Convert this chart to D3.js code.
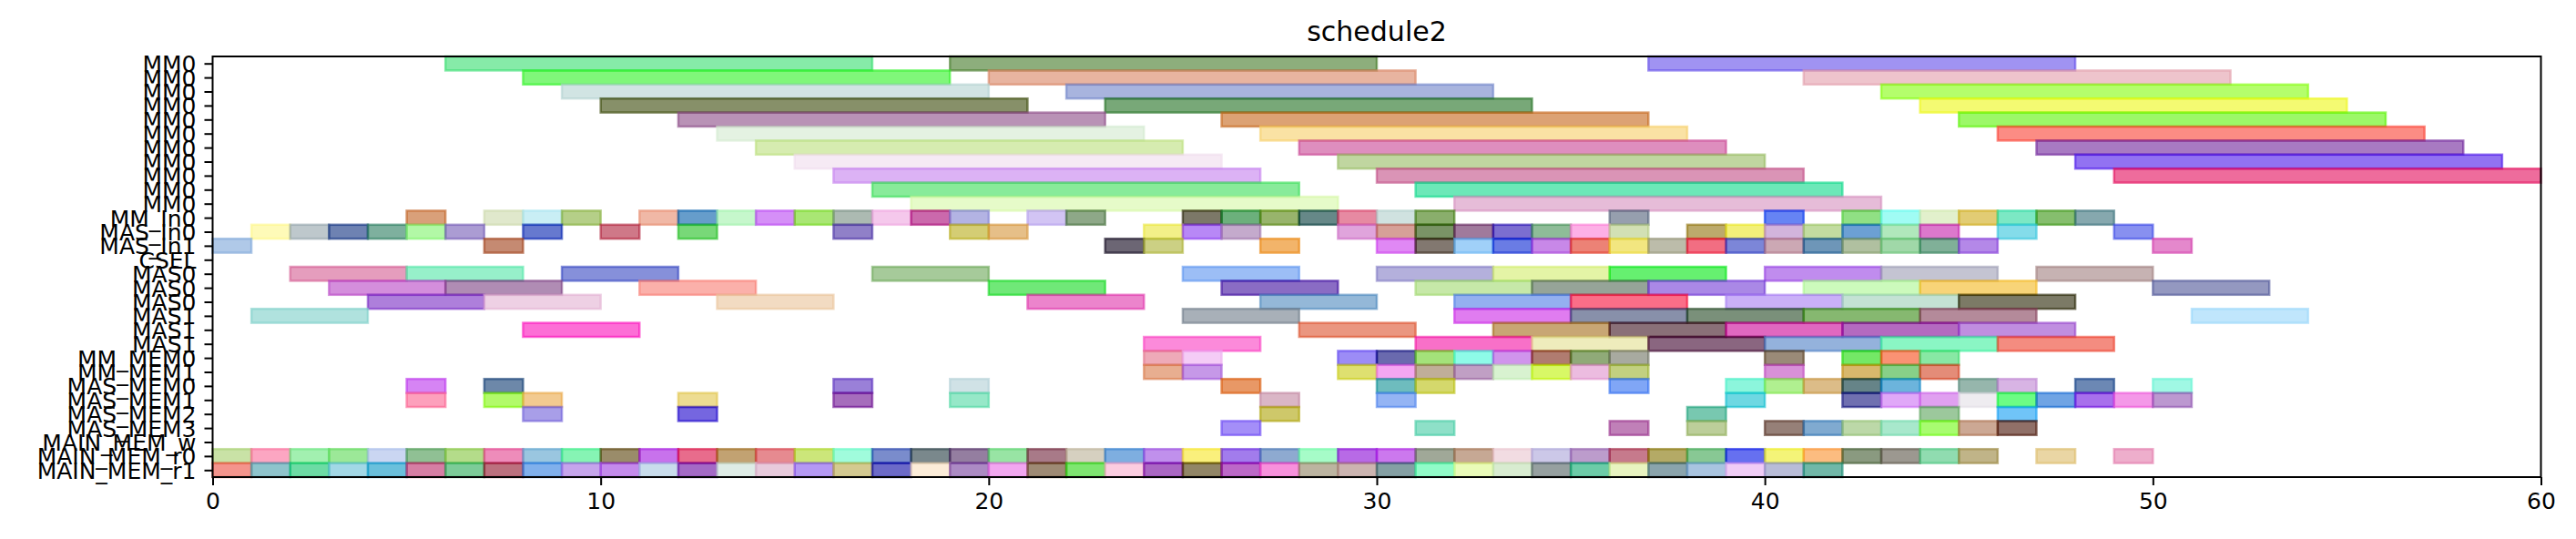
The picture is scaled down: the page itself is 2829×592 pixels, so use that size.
<!DOCTYPE html>
<html>
<head>
<meta charset="utf-8">
<script src="https://cdn.jsdelivr.net/npm/d3@7"></script>
<style>
  html, body { margin: 0; padding: 0; background: #fff; }
  svg { display: block; font-family: "DejaVu Sans", sans-serif; }
</style>
</head>
<body>
<svg id="chart" width="2829" height="592"></svg>
<script>
const chartTitle = "schedule2";
const xTicks = [0, 10, 20, 30, 40, 50, 60];
const rowLabels = [
  "MM0","MM0","MM0","MM0","MM0","MM0","MM0","MM0","MM0","MM0","MM0",
  "MM_In0","MAS_In0","MAS_In1","CSEL",
  "MAS0","MAS0","MAS0","MAS1","MAS1","MAS1",
  "MM_MEM0","MM_MEM1","MAS_MEM0","MAS_MEM1","MAS_MEM2","MAS_MEM3",
  "MAIN_MEM_w","MAIN_MEM_r0","MAIN_MEM_r1"
];

// task spans per row: [start, end]
const rowSpans = [
  [[6,17],[19,30],[37,48]],
  [[8,19],[20,31],[41,52]],
  [[9,20],[22,33],[43,54]],
  [[10,21],[23,34],[44,55]],
  [[12,23],[26,37],[45,56]],
  [[13,24],[27,38],[46,57]],
  [[14,25],[28,39],[47,58]],
  [[15,26],[29,40],[48,59]],
  [[16,27],[30,41],[49,60]],
  [[17,28],[31,42]],
  [[18,29],[32,43]],
  [[5,6],[7,8],[8,9],[9,10],[11,12],[12,13],[13,14],[14,15],[15,16],[16,17],[17,18],[18,19],[19,20],[21,22],[22,23],[25,26],[26,27],[27,28],[28,29],[29,30],[30,31],[31,32],[36,37],[40,41],[42,43],[43,44],[44,45],[45,46],[46,47],[47,48],[48,49]],
  [[1,2],[2,3],[3,4],[4,5],[5,6],[6,7],[8,9],[10,11],[12,13],[16,17],[19,20],[20,21],[24,25],[25,26],[26,27],[29,30],[30,31],[31,32],[32,33],[33,34],[34,35],[35,36],[36,37],[38,39],[39,40],[40,41],[41,42],[42,43],[43,44],[44,45],[46,47],[49,50]],
  [[0,1],[7,8],[23,24],[24,25],[27,28],[30,31],[31,32],[32,33],[33,34],[34,35],[35,36],[36,37],[37,38],[38,39],[39,40],[40,41],[41,42],[42,43],[43,44],[44,45],[45,46],[50,51]],
  [],
  [[2,5],[5,8],[9,12],[17,20],[25,28],[30,33],[33,36],[36,39],[40,43],[43,46],[47,50]],
  [[3,6],[6,9],[11,14],[20,23],[26,29],[31,34],[34,37],[37,40],[41,44],[44,47],[50,53]],
  [[4,7],[7,10],[13,16],[21,24],[27,30],[32,35],[35,38],[39,42],[42,45],[45,48]],
  [[1,4],[25,28],[32,35],[35,38],[38,41],[41,44],[44,47],[51,54]],
  [[8,11],[28,31],[33,36],[36,39],[39,42],[42,45],[45,48]],
  [[24,27],[31,34],[34,37],[37,40],[40,43],[43,46],[46,49]],
  [[24,25],[25,26],[29,30],[30,31],[31,32],[32,33],[33,34],[34,35],[35,36],[36,37],[40,41],[42,43],[43,44],[44,45]],
  [[24,25],[25,26],[29,30],[30,31],[31,32],[32,33],[33,34],[34,35],[35,36],[36,37],[40,41],[42,43],[43,44],[44,45]],
  [[5,6],[7,8],[16,17],[19,20],[26,27],[30,31],[31,32],[36,37],[39,40],[40,41],[41,42],[42,43],[43,44],[45,46],[46,47],[48,49],[50,51]],
  [[5,6],[7,8],[8,9],[12,13],[16,17],[19,20],[27,28],[30,31],[39,40],[42,43],[43,44],[44,45],[45,46],[46,47],[47,48],[48,49],[49,50],[50,51]],
  [[8,9],[12,13],[27,28],[38,39],[44,45],[46,47]],
  [[26,27],[31,32],[36,37],[38,39],[40,41],[41,42],[42,43],[43,44],[44,45],[45,46],[46,47]],
  [],
  [[0,1],[1,2],[2,3],[3,4],[4,5],[5,6],[6,7],[7,8],[8,9],[9,10],[10,11],[11,12],[12,13],[13,14],[14,15],[15,16],[16,17],[17,18],[18,19],[19,20],[20,21],[21,22],[22,23],[23,24],[24,25],[25,26],[26,27],[27,28],[28,29],[29,30],[30,31],[31,32],[32,33],[33,34],[34,35],[35,36],[36,37],[37,38],[38,39],[39,40],[40,41],[41,42],[42,43],[43,44],[44,45],[45,46],[47,48],[49,50]],
  [[0,1],[1,2],[2,3],[3,4],[4,5],[5,6],[6,7],[7,8],[8,9],[9,10],[10,11],[11,12],[12,13],[13,14],[14,15],[15,16],[16,17],[17,18],[18,19],[19,20],[20,21],[21,22],[22,23],[23,24],[24,25],[25,26],[26,27],[27,28],[28,29],[29,30],[30,31],[31,32],[32,33],[33,34],[34,35],[35,36],[36,37],[37,38],[38,39],[39,40],[40,41],[41,42]]
];

// observed (blended) bar colours per row, same order as rowSpans
const rowColors = [
  ["#86eba8","#8dae7c","#a093f2"],
  ["#80f77a","#e8b4a0","#eec4cc"],
  ["#d1e4e3","#a8b4de","#b4fe6c"],
  ["#879069","#78a878","#f4fa72"],
  ["#b992b6","#dca274","#9cf868"],
  ["#e4f2e2","#fae2a4","#fc8c84"],
  ["#d6ecb0","#de8ebe","#a87ac2"],
  ["#f6eaf4","#c0d6a0","#9272f2"],
  ["#dcb2f5","#da94b6","#ee6c9c"],
  ["#88eb9a","#6ce8b8"],
  ["#e6fbc9","#e6bcd8"],
  ["#d9a07a","#e0e8cc","#c9eef5","#b5cf88","#f0b8a6","#659dcb","#c6f7cc","#d58ff7","#a9e674","#acbab2","#f5c8ec","#cb69ac","#b3b3e3","#d2c4f4","#8ea888","#7c7868","#6cb07c","#98b46c","#608888","#e68aa2","#d0e2e0","#8aae6c","#969fae","#6484f4","#90e084","#a0fcf4","#e2f0cc","#e2cc74","#7ce8c4","#86be6e","#86a8ae"],
  ["#fefab8","#bec8cc","#6e82b2","#7eb09e","#b2f8a6","#ab9cd3","#5d79cf","#cf7888","#78d878","#9080c8","#d4cd74","#e6bf88","#f2f088","#b888f6","#c4aacc","#e0a4dc","#d6a098","#7a9466","#a07a9c","#7c6ed0","#8ebc98","#fdb0e6","#d2e0b4","#bcaa6c","#f2f07a","#d2b4dc","#c2dca0","#6ca0d4","#b0e8bc","#dc78cc","#84dcea","#8890f0"],
  ["#b0c9e8","#c58a72","#6c6474","#ccd084","#f2b46a","#e088f4","#827870","#a0d0f8","#6a7ce4","#c888e8","#ec8276","#f2e680","#bcbcaa","#f26e82","#7c86d8","#cca8b4","#6e96b8","#b0c0a0","#a0d8a8","#80b098","#b488e8","#e488cc"],
  [],
  ["#e59dbd","#97f0ca","#8690da","#a6ca9a","#9cbef6","#b4b0dc","#e4f4a6","#64f070","#c08cee","#c4c4d2","#c6b2b2"],
  ["#d48edc","#b08cb4","#fbb0aa","#70e878","#8a6cc4","#c6e8a8","#96a498","#aa88e6","#ccfabc","#f8d478","#9498c0"],
  ["#ae7fdb","#eed0e4","#f2dbc2","#ec84cc","#94b8d8","#94b0f0","#fb6e88","#cab0f8","#c4e2d4","#7c7a66"],
  ["#b0e2de","#a8b0b8","#e07cf0","#8890aa","#7a907a","#86b870","#b48a9a","#c0e6fc"],
  ["#fd6ed6","#ea9680","#c8a674","#8a7078","#e068c0","#b46ac0","#c08ee0"],
  ["#fc8ada","#f870c8","#eeecbc","#8a6080","#94b2dc","#8af6c4","#f48c80"],
  ["#eeaab8","#f4ccf6","#9c8cf6","#6a6aae","#a4e27a","#8efbe8","#d094ec","#b07c70","#90aa78","#a8aaa0","#9a8a78","#74e864","#fa9274","#88e8a4"],
  ["#e8ae90","#c698e8","#dee070","#f4a6f2","#c0ae98","#c09fc4","#d8f2d0","#d8f85a","#ecbce0","#c2d080","#d890d8","#d8b86c","#88d088","#e48c78"],
  ["#d684f4","#6d88a9","#9a80d8","#d0e2e6","#e89860","#6ebcbe","#d4d86c","#80a6f6","#8cf6dc","#b0f090","#dcbc88","#648488","#6cb4dc","#96b6ac","#d8b4e4","#6c88b4","#a0f8e4"],
  ["#fda0bc","#b2fa6a","#f2ca90","#eddc92","#a66dbc","#96e8c8","#dab6c6","#94b4f4","#6ed8e2","#7070b0","#e0a8f8","#e0a0f0","#eeecf0","#6cfc84","#70a4e4","#a870ec","#f498e8","#bc98d0"],
  ["#a89ee8","#7566e0","#cec86a","#78c8b0","#9cc89c","#70c4f8"],
  ["#a48ef8","#8ee0c8","#c080b8","#bcce9a","#968078","#80aad0","#bcd8a8","#a8e8cc","#a8fc70","#cca894","#907068"],
  [],
  ["#c9e2a6","#fca6c2","#a2f0b0","#9ce898","#cad6f2","#90c094","#b4dc8a","#ee8cba","#9ac6e0","#86f4b4","#9a8c6a","#c872ec","#e86c8c","#c2a272","#e68a90","#cce67a","#a0fcdc","#7a8ccc","#7a888c","#947ea0","#98e4a4","#a87a88","#d6d0c0","#7eaee0","#c090ec","#faf07c","#a27cec","#8eaad0","#a6fcc8","#b86ae6","#cc78ee","#a0a898","#c6a894","#f2dce2","#ccc8e8","#bc9ccc","#c67a8c","#b4aa64","#88c894","#6070f0","#f4f478","#fcbc80","#8a9a80","#9c9890","#90dcb0","#c0b488","#ead6a4","#eeaecc"],
  ["#f4948c","#8ec4cc","#6cdca4","#a2d8e6","#6ac0dc","#d67ea4","#7ccc98","#bc707e","#80b0ec","#c6a4ec","#c48aec","#c8dcec","#a46ac6","#deece6","#e8cadc","#b498f4","#d4ca90","#6c6ac8","#fcecd8","#ac8ac4","#f2a6f0","#9e8a74","#7ee670","#fccce0","#aa66c4","#928660","#bc68c8","#f890dc","#bcb4a0","#ccb4b0","#84a0a4","#90fcc8","#eafcb8","#d8ecd0","#96a0a0","#6ccca8","#e8f4c0","#8aa4ac","#a8c4e0","#f0ccf6","#b8bcd8","#70b8a8"]
];

// ---------- drawing ----------
const W = 2829, H = 592;
const plot = { left: 233.5, right: 2790.5, top: 62, bottom: 524 };
const ALPHA = 0.6;

const svg = d3.select("#chart");
const x = d3.scaleLinear().domain([0, 60]).range([plot.left, plot.right]);
const y = d3.scaleLinear().domain([-0.5, rowLabels.length - 0.5]).range([plot.top, plot.bottom]);

// recover the un-blended base colour from the observed blended colour
function baseColor(hex) {
  const c = d3.rgb(hex);
  const f = v => Math.max(0, Math.min(255, (v - (1 - ALPHA) * 255) / ALPHA));
  return d3.rgb(f(c.r), f(c.g), f(c.b)).formatHex();
}

const bars = [];
rowSpans.forEach((spans, r) => {
  spans.forEach((s, k) => {
    bars.push({ row: r, start: s[0], end: s[1], color: rowColors[r][k] || "#cccccc" });
  });
});

const gBars = svg.append("g");
gBars.selectAll("rect").data(bars).join("rect")
  .attr("x", d => x(d.start))
  .attr("y", d => y(d.row - 0.5))
  .attr("width", d => x(d.end) - x(d.start))
  .attr("height", d => y(d.row + 0.5) - y(d.row - 0.5))
  .attr("fill", d => baseColor(d.color))
  .attr("fill-opacity", ALPHA)
  .attr("stroke", d => baseColor(d.color))
  .attr("stroke-opacity", ALPHA)
  .attr("stroke-width", 2.5);

// x axis
const xAxis = d3.axisBottom(x).tickValues(xTicks).tickSize(9).tickPadding(8).tickFormat(d3.format("d"));
const gx = svg.append("g").attr("transform", `translate(0,${plot.bottom})`).call(xAxis);
gx.select(".domain").remove();
gx.selectAll(".tick line").attr("stroke", "#000").attr("stroke-width", 2);
gx.selectAll(".tick text").attr("font-size", 25).attr("fill", "#000")
  .attr("font-family", "DejaVu Sans, sans-serif");

// y axis (rows)
const yAxis = d3.axisLeft(y).tickValues(d3.range(rowLabels.length)).tickSize(9).tickPadding(9)
  .tickFormat(i => rowLabels[i]);
const gy = svg.append("g").attr("transform", `translate(${plot.left},0)`).call(yAxis);
gy.select(".domain").remove();
gy.selectAll(".tick line").attr("stroke", "#000").attr("stroke-width", 2);
gy.selectAll(".tick text").attr("font-size", 25).attr("fill", "#000")
  .attr("font-family", "DejaVu Sans, sans-serif").attr("dy", "0.36em");

// frame
svg.append("rect")
  .attr("x", plot.left).attr("y", plot.top)
  .attr("width", plot.right - plot.left).attr("height", plot.bottom - plot.top)
  .attr("fill", "none").attr("stroke", "#000").attr("stroke-width", 2);

// title
svg.append("text")
  .attr("x", (plot.left + plot.right) / 2).attr("y", 45)
  .attr("text-anchor", "middle").attr("font-size", 30).attr("fill", "#000")
  .attr("font-family", "DejaVu Sans, sans-serif")
  .text(chartTitle);
</script>
</body>
</html>
